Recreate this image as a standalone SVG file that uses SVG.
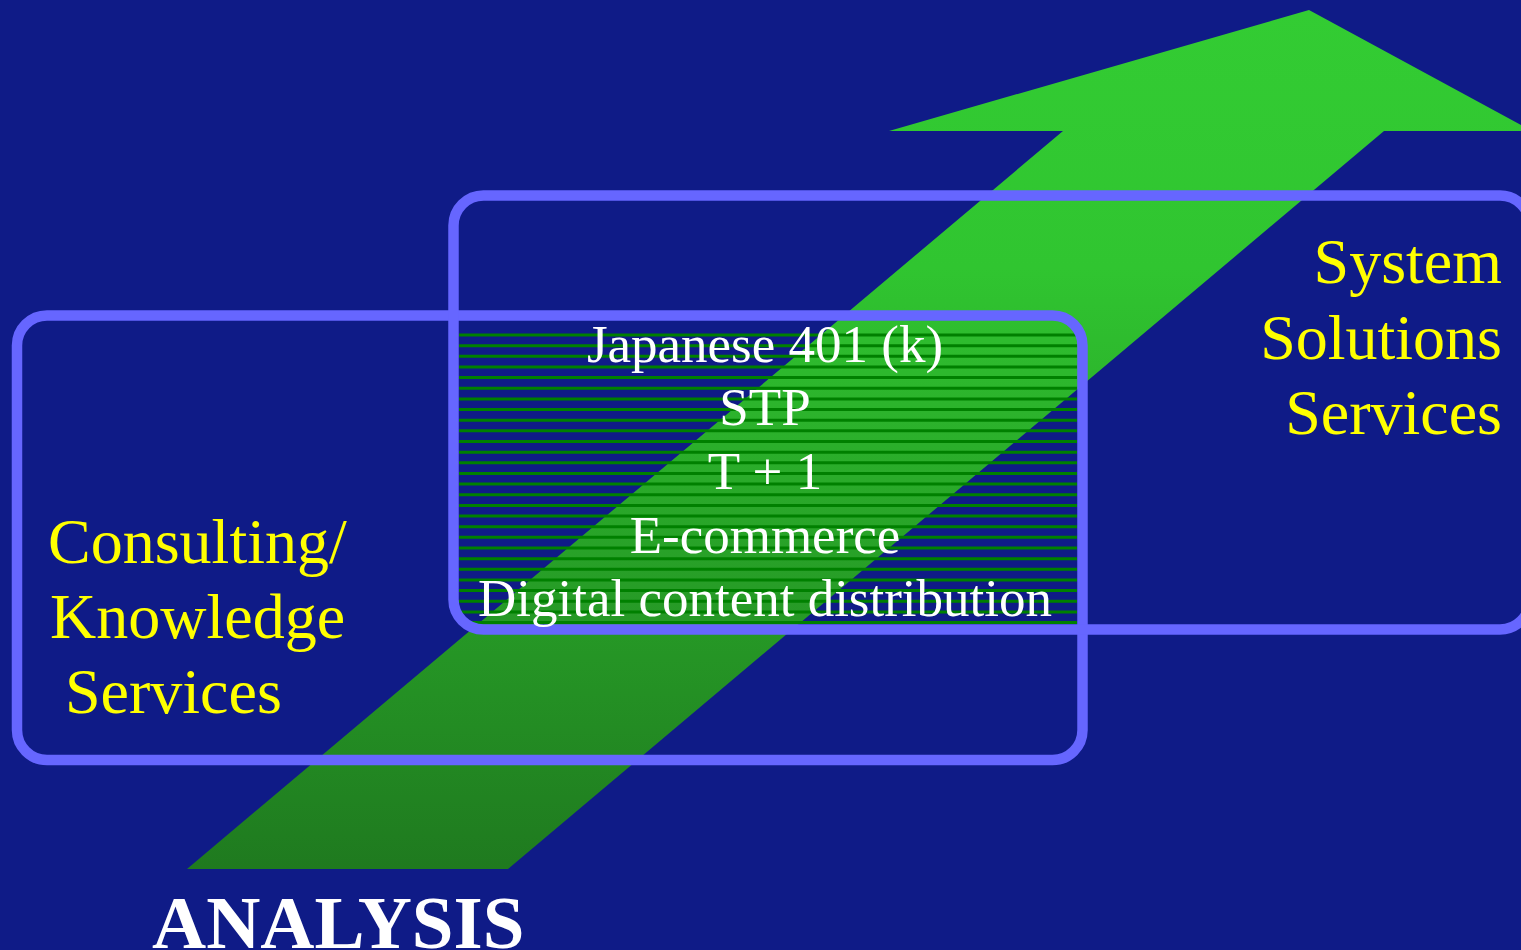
<svg xmlns="http://www.w3.org/2000/svg" width="1521" height="950" viewBox="0 0 1521 950">
<defs>
<linearGradient id="arrowGrad" x1="0" y1="10" x2="0" y2="869" gradientUnits="userSpaceOnUse">
<stop offset="0" stop-color="#33CC33"/>
<stop offset="0.3" stop-color="#30C530"/>
<stop offset="1" stop-color="#1F7A1F"/>
</linearGradient>
<style>
.box{fill:none;stroke:#6666FF;stroke-width:10.5}
.hatch line{stroke:#008000;stroke-width:3}
.center{font-family:"Liberation Serif","Times New Roman",serif;font-size:53px;fill:#FFFFFF;text-anchor:middle}
.yel{font-family:"Liberation Serif","Times New Roman",serif;font-size:64px;fill:#FFFF00}
.title{font-family:"Liberation Serif","Times New Roman",serif;font-size:75px;font-weight:bold;fill:#FFFFFF}
</style>
</defs>
<rect width="1521" height="950" fill="#0F1B87"/>
<g id="arrow">
<polygon points="187,869 508,869 1384,131 1532,131 1309,10 889,131 1063,131" fill="url(#arrowGrad)"/>
</g>
<g id="overlap-hatch" class="hatch">
<line x1="459" y1="335" x2="1077" y2="335"/>
<line x1="459" y1="345.65" x2="1077" y2="345.65"/>
<line x1="459" y1="356.3" x2="1077" y2="356.3"/>
<line x1="459" y1="366.95" x2="1077" y2="366.95"/>
<line x1="459" y1="377.6" x2="1077" y2="377.6"/>
<line x1="459" y1="388.25" x2="1077" y2="388.25"/>
<line x1="459" y1="398.9" x2="1077" y2="398.9"/>
<line x1="459" y1="409.55" x2="1077" y2="409.55"/>
<line x1="459" y1="420.2" x2="1077" y2="420.2"/>
<line x1="459" y1="430.85" x2="1077" y2="430.85"/>
<line x1="459" y1="441.5" x2="1077" y2="441.5"/>
<line x1="459" y1="452.15" x2="1077" y2="452.15"/>
<line x1="459" y1="462.8" x2="1077" y2="462.8"/>
<line x1="459" y1="473.45" x2="1077" y2="473.45"/>
<line x1="459" y1="484.1" x2="1077" y2="484.1"/>
<line x1="459" y1="494.75" x2="1077" y2="494.75"/>
<line x1="459" y1="505.4" x2="1077" y2="505.4"/>
<line x1="459" y1="516.05" x2="1077" y2="516.05"/>
<line x1="459" y1="526.7" x2="1077" y2="526.7"/>
<line x1="459" y1="537.35" x2="1077" y2="537.35"/>
<line x1="459" y1="548" x2="1077" y2="548"/>
<line x1="459" y1="558.65" x2="1077" y2="558.65"/>
<line x1="459" y1="569.3" x2="1077" y2="569.3"/>
<line x1="459" y1="579.95" x2="1077" y2="579.95"/>
<line x1="459" y1="590.6" x2="1077" y2="590.6"/>
<line x1="455" y1="601.25" x2="1077" y2="601.25"/>
<line x1="453" y1="611.9" x2="1077" y2="611.9"/>
<line x1="459" y1="622.55" x2="1077" y2="622.55"/>
</g>
<g id="consulting-box">
<rect class="box" x="17" y="315.5" width="1065.5" height="444.5" rx="30" ry="30"/>
</g>
<g id="system-box">
<rect class="box" x="453.5" y="195.5" width="1076.5" height="434" rx="30" ry="30"/>
</g>
<g id="overlap-labels">
<text class="center" x="765" y="362">Japanese 401 (k)</text>
<text class="center" x="765" y="425">STP</text>
<text class="center" x="765" y="489">T + 1</text>
<text class="center" x="765" y="553">E-commerce</text>
<text class="center" x="765" y="616">Digital content distribution</text>
</g>
<g id="system-label">
<text class="yel" x="1502" y="283" text-anchor="end">System</text>
<text class="yel" x="1502" y="359" text-anchor="end">Solutions</text>
<text class="yel" x="1502" y="434" text-anchor="end">Services</text>
</g>
<g id="consulting-label">
<text class="yel" x="48" y="563">Consulting/</text>
<text class="yel" x="50" y="638">Knowledge</text>
<text class="yel" x="65" y="713">Services</text>
</g>
<g id="analysis-label">
<text class="title" x="152" y="948">ANALYSIS</text>
</g>
</svg>
